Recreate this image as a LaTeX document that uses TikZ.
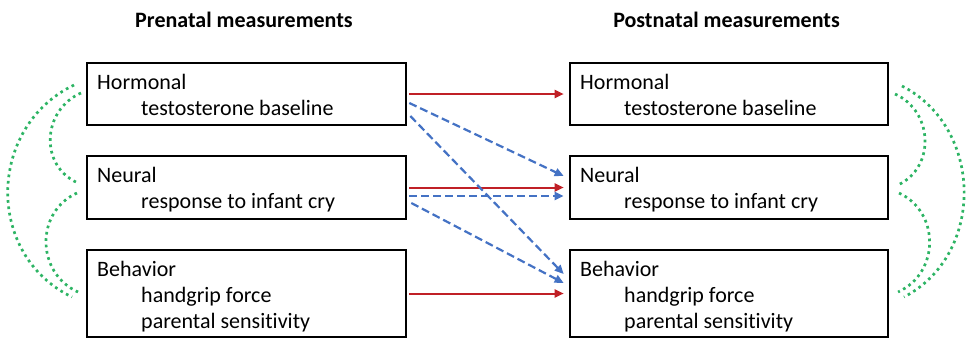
\documentclass[tikz,border=0pt]{standalone}
\usepackage{fontspec}
\setmainfont{Carlito}[Ligatures=NoCommon]
\usetikzlibrary{arrows.meta}
\definecolor{arrred}{RGB}{192,32,38}
\definecolor{arrblue}{RGB}{68,114,196}
\definecolor{dotgreen}{RGB}{45,180,100}
\tikzset{
  box/.style={draw=black, line width=2.6bp, rectangle, inner sep=0pt, minimum width=319bp},
  lbl/.style={anchor=base west, inner sep=0pt, font=\fontsize{22bp}{26bp}\selectfont},
  ttl/.style={anchor=base, inner sep=0pt, font=\fontsize{22bp}{26bp}\selectfont\bfseries},
  redarr/.style={draw=arrred, line width=2bp, -{Triangle[length=9bp,width=8bp]}},
  bluearr/.style={draw=arrblue, line width=2.2bp, dash pattern=on 8bp off 4bp, -{Triangle[length=9bp,width=8bp]}},
  greendot/.style={draw=dotgreen, line width=2.7bp, dash pattern=on 2.7bp off 3.7bp}
}
\begin{document}
\begin{tikzpicture}[x=1bp, y=-1bp]
\useasboundingbox (0,0) rectangle (966,342);
% titles
\node[ttl] (t1) at (244,27.5) {Prenatal measurements};
\node[ttl] (t2) at (726.5,27.5) {Postnatal measurements};
% boxes
\node[box, minimum height=62bp] (L1) at (246.5,94) {};
\node[box, minimum height=63bp] (L2) at (246.5,187.5) {};
\node[box, minimum height=87bp] (L3) at (246.5,293.5) {};
\node[box, minimum height=62bp, minimum width=318bp] (R1) at (729,94) {};
\node[box, minimum height=63bp, minimum width=318bp] (R2) at (729,187.5) {};
\node[box, minimum height=87bp, minimum width=318bp] (R3) at (729,293.5) {};
% texts left
\node[lbl] (l1a) at (97,89) {Hormonal};
\node[lbl] (l1b) at (141,115) {testosterone baseline};
\node[lbl] (l2a) at (97,182) {Neural};
\node[lbl] (l2b) at (141,208) {response to infant cry};
\node[lbl] (l3a) at (97,276) {Behavior};
\node[lbl] (l3b) at (141,302) {handgrip force};
\node[lbl] (l3c) at (141,328) {parental sensitivity};
% texts right
\node[lbl] (r1a) at (580,89) {Hormonal};
\node[lbl] (r1b) at (624,115) {testosterone baseline};
\node[lbl] (r2a) at (580,182) {Neural};
\node[lbl] (r2b) at (624,208) {response to infant cry};
\node[lbl] (r3a) at (580,276) {Behavior};
\node[lbl] (r3b) at (624,302) {handgrip force};
\node[lbl] (r3c) at (624,328) {parental sensitivity};
% red arrows
\draw[redarr] ([xshift=2bp]L1.east) -- ([xshift=-5bp]R1.west);
\draw[redarr] ([xshift=2bp]L2.east) -- ([xshift=-5bp]R2.west);
\draw[redarr] ([xshift=2bp]L3.east) -- ([xshift=-5bp]R3.west);
% blue dashed arrows
\draw[bluearr] ([xshift=2bp,yshift=-9bp]L1.east) -- ([xshift=-5bp,yshift=11.5bp]R2.west);
\draw[bluearr] ([xshift=3bp,yshift=-22bp]L1.east) -- ([xshift=-5bp,yshift=19.5bp]R3.west);
\draw[bluearr] ([xshift=2bp,yshift=-8.5bp]L2.east) -- ([xshift=-5bp,yshift=-8.5bp]R2.west);
\draw[bluearr] ([xshift=4bp,yshift=-15.5bp]L2.east) -- ([xshift=-5bp,yshift=10.5bp]R3.west);
% green dotted curves left
\draw[greendot] (74,85) .. controls (-13,127) and (-15,255) .. (72,297);
\draw[greendot] (81,93) .. controls (42,110) and (39,166) .. (78,183);
\draw[greendot] (77,193) .. controls (35,212) and (36,273) .. (78,292);
% green dotted curves right
\draw[greendot] (902,86) .. controls (984,128) and (985,255) .. (904,297);
\draw[greendot] (895,94) .. controls (933,111) and (936,167) .. (898,185);
\draw[greendot] (899,193) .. controls (940,212) and (940,273) .. (898,292);
\end{tikzpicture}
\end{document}
